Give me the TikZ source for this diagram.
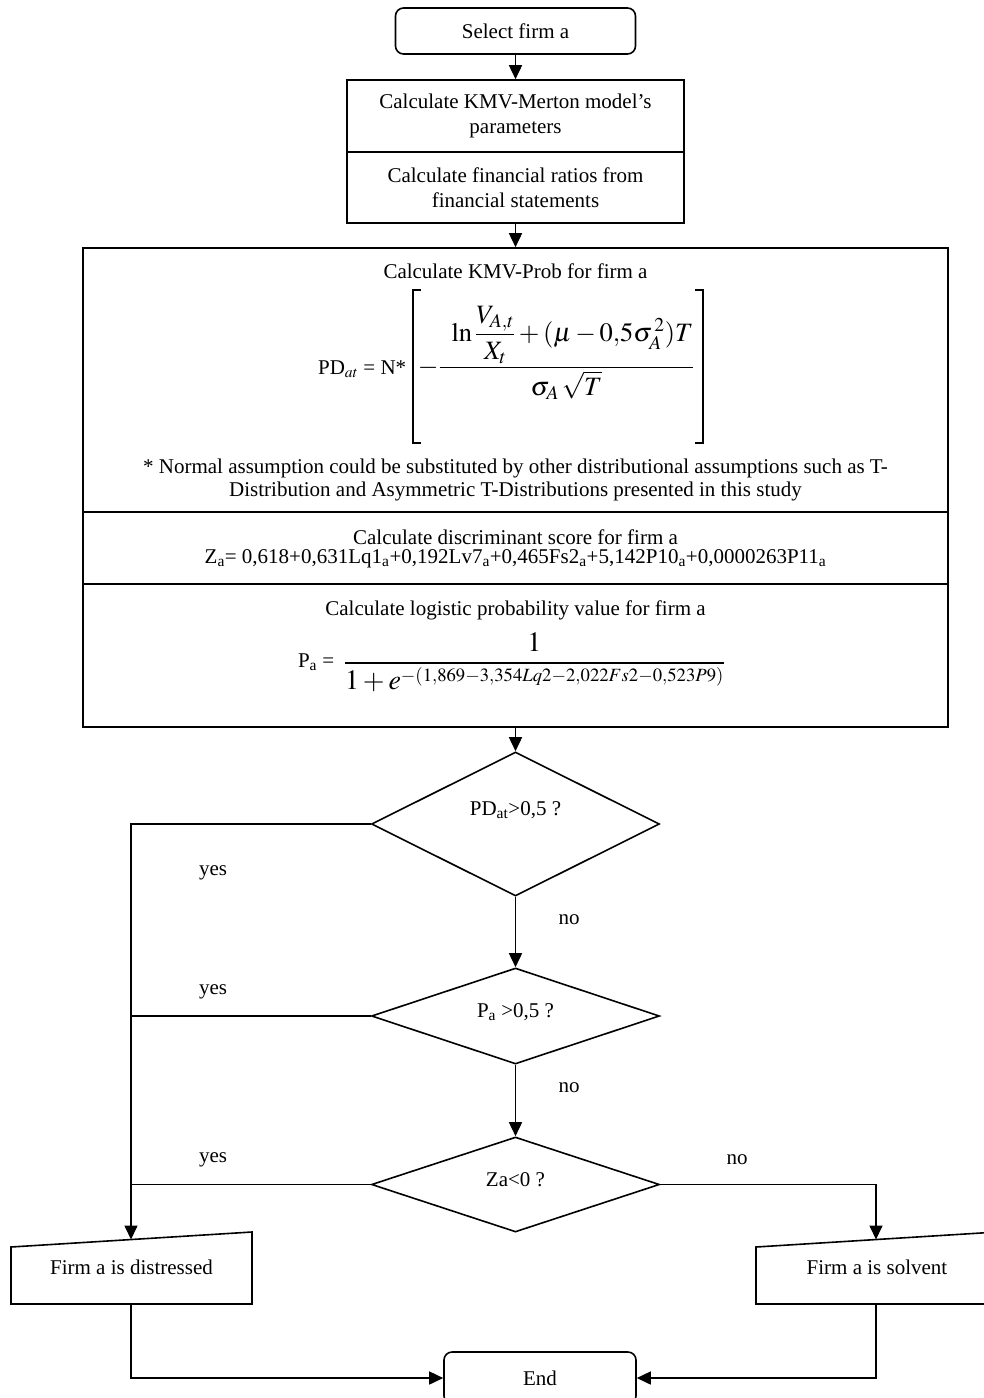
\documentclass[tikz,border=0pt]{standalone}
\usepackage{amsmath}
\usepackage{mathptmx}
\usepackage[no-math]{fontspec}
\setmainfont{Liberation Serif}
\usetikzlibrary{shapes.geometric,arrows.meta}
\DeclareMathSizes{28}{28}{18.7}{13}
\newcommand\txtf{\fontsize{21}{25}\selectfont}
\newcommand\kmvmath{\fontsize{26.5}{32}\selectfont}
\newcommand\logmath{\fontsize{28}{34}\selectfont}
\begin{document}
\begin{tikzpicture}[x=1pt,y=-1pt,line width=1.6pt,
  box/.style={draw,rectangle,inner sep=0pt,align=center,font=\txtf},
  rbox/.style={draw,rectangle,rounded corners=8pt,inner sep=0pt,align=center,font=\txtf},
  dia/.style={draw,diamond,inner sep=0pt,minimum width=288pt},
  lbl/.style={inner sep=0pt,font=\txtf},
  arr/.style={-{Triangle[length=14pt,width=13pt]}},
  brk/.style={line width=1.2pt}]
\useasboundingbox (0,0) rectangle (984,1398);
% top boxes
\node[rbox,minimum width=240pt,minimum height=46pt] (sel) at (515.5,31) {Select firm a};
\node[box,minimum width=337pt,minimum height=72pt] (b1) at (515.5,116) {Calculate KMV-Merton model’s\\parameters};
\node[box,minimum width=337pt,minimum height=71pt] (b2) at (515.5,187.5) {Calculate financial ratios from\\financial statements};
% big box
\node[box,minimum width=865pt,minimum height=264pt] (s1) at (515.5,380) {};
\node[box,minimum width=865pt,minimum height=72pt] (s2) at (515.5,548) {};
\node[box,minimum width=865pt,minimum height=143pt] (s3) at (515.5,655.5) {};
% section 1
\node[lbl] (t1) at (515.5,271) {Calculate KMV-Prob for firm a};
\node[lbl,anchor=base east] (pd) at (407,374) {PD$_{at}$ = N*};
\node[inner sep=0pt,anchor=base west] (kmvf) at (417,374) {\kmvmath
 $\displaystyle -\frac{\hspace{12pt}\ln\dfrac{V_{A,t}}{X_t}+(\mu-0{,}5\sigma_{A}^{\,2})T}{\sigma_{A}\,\sqrt{T}}$};
\draw[brk] (421,290) -- (413,290) -- (413,443) -- (421,443);
\draw[brk] (695,290) -- (703,290) -- (703,443) -- (695,443);
\node[lbl,align=center,font=\fontsize{21}{23.5}\selectfont] (note) at (515.5,480) {* Normal assumption could be substituted by other distributional assumptions such as T-\\Distribution and Asymmetric T-Distributions presented in this study};
% section 2
\node[lbl] (t2) at (515.5,537) {Calculate discriminant score for firm a};
\node[lbl] (zf) at (515.5,559) {Z\textsubscript{a}= 0,618+0,631Lq1\textsubscript{a}+0,192Lv7\textsubscript{a}+0,465Fs2\textsubscript{a}+5,142P10\textsubscript{a}+0,0000263P11\textsubscript{a}};
% section 3
\node[lbl] (t3) at (515.5,610) {Calculate logistic probability value for firm a};
\node[lbl,anchor=base east] (pa) at (335,667) {P\textsubscript{a} =};
\node[inner sep=0pt,anchor=base west] (logf) at (343,670) {\logmath
 $\displaystyle\frac{1}{1+e^{-(1{,}869-3{,}354Lq2-2{,}022Fs2-0{,}523P9)}}$};
% diamonds
\node[dia,minimum height=144pt] (d1) at (515.5,824) {};
\node[dia,minimum height=96pt] (d2) at (515.5,1016) {};
\node[dia,minimum height=95pt] (d3) at (515.5,1184.5) {};
\node[lbl] (d1t) at (515.5,810) {PD\textsubscript{at}>0,5 ?};
\node[lbl] (d2t) at (515.5,1012) {P\textsubscript{a} >0,5 ?};
\node[lbl] (d3t) at (515.5,1180) {Za<0 ?};
% outputs
\draw (11,1247) -- (252,1232) -- (252,1304) -- (11,1304) -- cycle;
\node[lbl] (dis) at (131.5,1267) {Firm a is distressed};
\coordinate (distop) at (131,1239.5);
\coordinate (disbot) at (131,1304);
\draw (756,1247) -- (997,1232) -- (997,1304) -- (756,1304) -- cycle;
\node[lbl] (sol) at (877,1267) {Firm a is solvent};
\coordinate (soltop) at (876,1239.5);
\coordinate (solbot) at (876,1304);
\node[rbox,minimum width=192pt,minimum height=52pt] (endn) at (540,1378) {End};
% connectors
\draw[arr] (sel.south) -- (b1.north);
\draw[arr] (b2.south) -- (s1.north);
\draw[arr] (s3.south) -- (d1.north);
\draw[arr] (d1.south) -- (d2.north);
\draw[arr] (d2.south) -- (d3.north);
\draw[arr] (d1.west) -| (distop);
\draw (d2.west) -- (d2.west -| distop);
\draw (d3.west) -- (d3.west -| distop);
\draw[arr] (d3.east) -| (soltop);
\draw[arr] (disbot) |- (endn.west);
\draw[arr] (solbot) |- (endn.east);
% labels
\node[lbl] (y1) at (213,873) {yes};
\node[lbl] (n1) at (569,920) {no};
\node[lbl] (y2) at (213,992) {yes};
\node[lbl] (n2) at (569,1088) {no};
\node[lbl] (y3) at (213,1160) {yes};
\node[lbl] (n3) at (737,1160) {no};
\end{tikzpicture}
\end{document}
